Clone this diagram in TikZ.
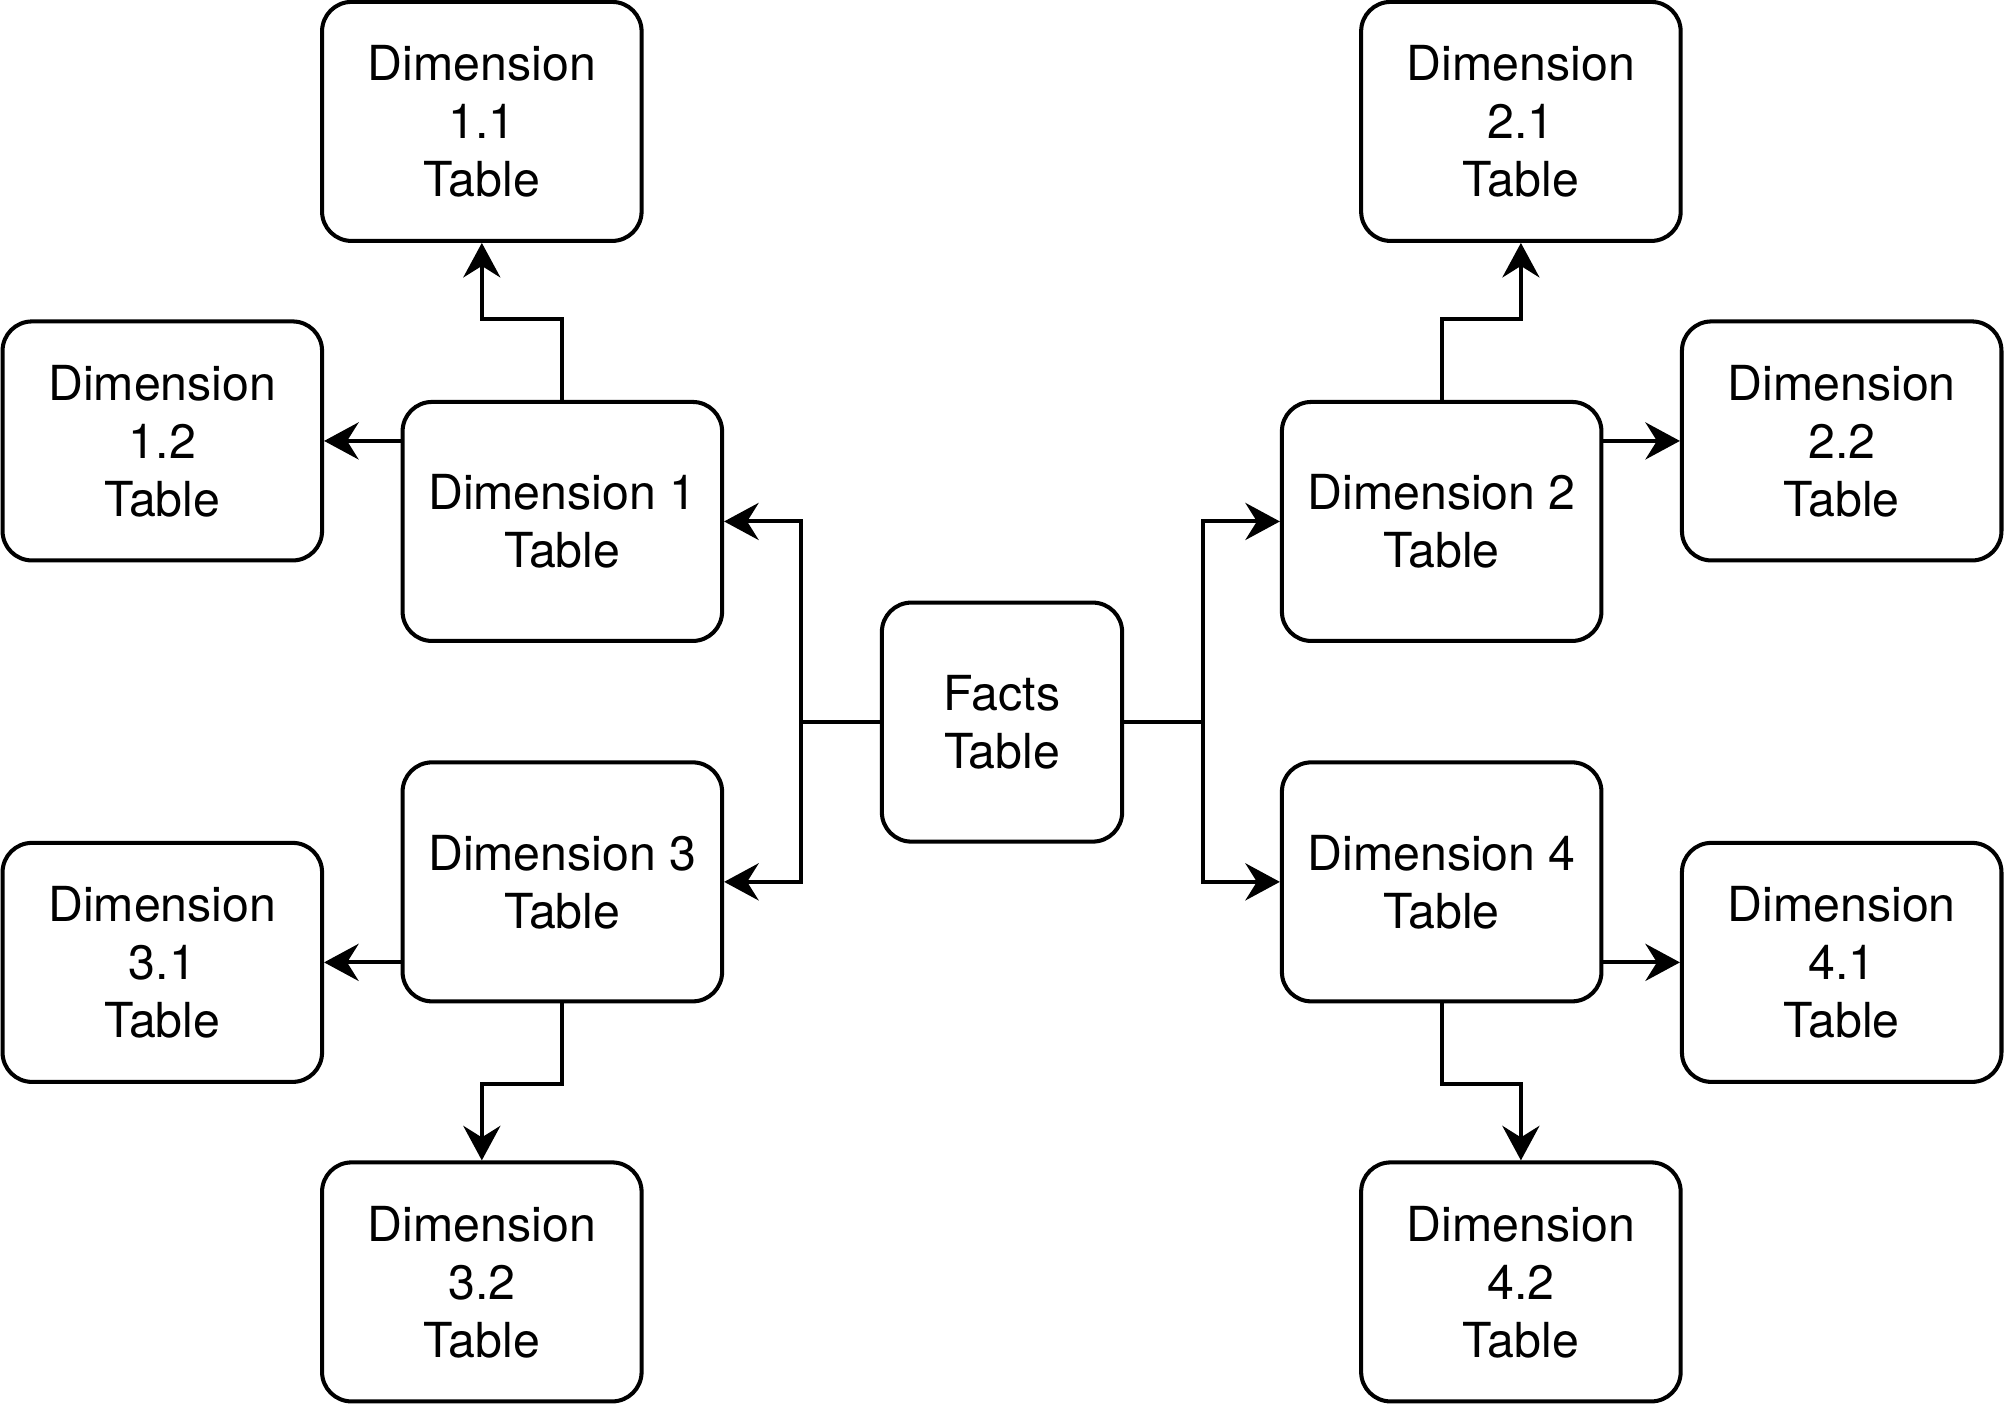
\documentclass[tikz,border=0pt]{standalone}
\usepackage{fontspec}
\setmainfont{TeX Gyre Heros}
\usetikzlibrary{arrows.meta}

\begin{document}
\begin{tikzpicture}[
        tbl/.style={draw, line width=0.9pt, rounded corners=0.23cm, minimum width=2.5cm,
            minimum height=1.87cm, align=center, inner sep=0pt,
            font=\fontsize{10.75}{12.9}\selectfont},
        facts/.style={tbl, minimum width=1.88cm},
        link/.style={line width=0.9pt, -{Stealth[length=2.7mm, width=2.9mm, inset=0.9mm]}}
    ]
        % Page size
        \useasboundingbox (0,0) rectangle (15.68,10.99);

        % Centre table
        \node[facts] (facts) at (7.84,5.34) {Facts\\Table};

        % First level of dimensions
        \node[tbl] (dim1) at (4.40,6.91) {Dimension 1\\Table};
        \node[tbl] (dim2) at (11.28,6.91) {Dimension 2\\Table};
        \node[tbl] (dim3) at (4.40,4.09) {Dimension 3\\Table};
        \node[tbl] (dim4) at (11.28,4.09) {Dimension 4\\Table};

        % Second level of dimensions
        \node[tbl] (dim11) at (3.77,10.04) {Dimension\\1.1\\Table};
        \node[tbl] (dim12) at (1.27,7.54) {Dimension\\1.2\\Table};
        \node[tbl] (dim21) at (11.90,10.04) {Dimension\\2.1\\Table};
        \node[tbl] (dim22) at (14.41,7.54) {Dimension\\2.2\\Table};
        \node[tbl] (dim31) at (1.27,3.46) {Dimension\\3.1\\Table};
        \node[tbl] (dim32) at (3.77,0.96) {Dimension\\3.2\\Table};
        \node[tbl] (dim41) at (14.41,3.46) {Dimension\\4.1\\Table};
        \node[tbl] (dim42) at (11.90,0.96) {Dimension\\4.2\\Table};

        % Facts to the first level
        \draw[link] (facts.west) -- ++(-0.62,0) |- (dim1.east);
        \draw[link] (facts.west) -- ++(-0.62,0) |- (dim3.east);
        \draw[link] (facts.east) -- ++(0.62,0) |- (dim2.west);
        \draw[link] (facts.east) -- ++(0.62,0) |- (dim4.west);

        % First level to the second level
        \draw[link] (dim1.north) -- ++(0,0.63) -| (dim11.south);
        \draw[link] (dim12.east -| dim1.west) -- (dim12.east);
        \draw[link] (dim2.north) -- ++(0,0.63) -| (dim21.south);
        \draw[link] (dim22.west -| dim2.east) -- (dim22.west);
        \draw[link] (dim31.east -| dim3.west) -- (dim31.east);
        \draw[link] (dim3.south) -- ++(0,-0.63) -| (dim32.north);
        \draw[link] (dim41.west -| dim4.east) -- (dim41.west);
        \draw[link] (dim4.south) -- ++(0,-0.63) -| (dim42.north);

    \end{tikzpicture}
\end{document}
